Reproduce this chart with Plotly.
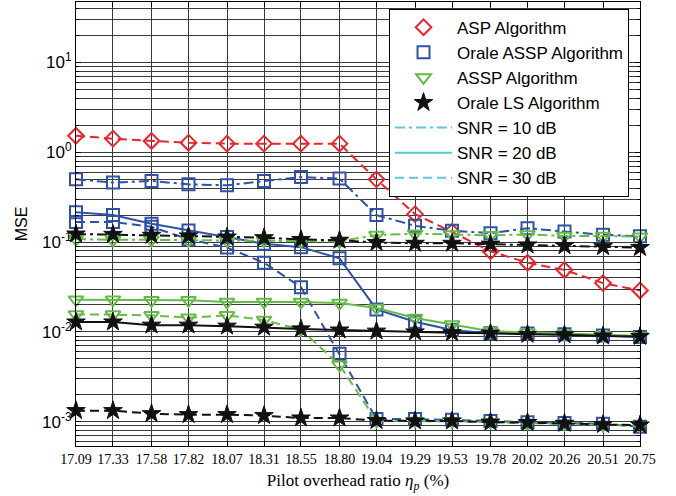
import plotly.graph_objects as go

# Pilot overhead ratio (%)
overhead = [17.09, 17.33, 17.58, 17.82, 18.07, 18.31, 18.55, 18.80,
            19.04, 19.29, 19.53, 19.78, 20.02, 20.26, 20.51, 20.75]
overhead_labels = ["17.09", "17.33", "17.58", "17.82", "18.07", "18.31", "18.55", "18.80",
                   "19.04", "19.29", "19.53", "19.78", "20.02", "20.26", "20.51", "20.75"]

# MSE curves
asp_30 = [1.53, 1.42, 1.34, 1.28, 1.25, 1.25, 1.25, 1.25,
          0.50, 0.205, 0.13, 0.079, 0.059, 0.049, 0.035, 0.029]

oassp_10 = [0.50, 0.46, 0.48, 0.44, 0.43, 0.48, 0.53, 0.51,
            0.20, 0.152, 0.134, 0.126, 0.143, 0.131, 0.121, 0.116]
oassp_20 = [0.215, 0.20, 0.16, 0.135, 0.114, 0.096, 0.088, 0.066,
            0.0178, 0.013, 0.0105, 0.0097, 0.0096, 0.0094, 0.0091, 0.0088]
oassp_30 = [0.168, 0.168, 0.148, 0.108, 0.087, 0.059, 0.0315, 0.0057,
            0.00107, 0.00107, 0.00105, 0.00102, 0.00099, 0.00097, 0.00095, 0.00088]

assp_10 = [0.108, 0.106, 0.106, 0.105, 0.104, 0.104, 0.103, 0.102,
           0.120, 0.124, 0.122, 0.119, 0.122, 0.117, 0.117, 0.115]
assp_20 = [0.0229, 0.0229, 0.0225, 0.0225, 0.0216, 0.0216, 0.0216, 0.0210,
           0.0185, 0.0143, 0.0121, 0.0102, 0.0099, 0.0096, 0.0092, 0.0090]
assp_30 = [0.0156, 0.0156, 0.0153, 0.0144, 0.0153, 0.0136, 0.0106, 0.0043,
           0.00102, 0.00102, 0.00101, 0.00099, 0.00097, 0.00095, 0.00092, 0.00090]

ols_10 = [0.123, 0.122, 0.119, 0.117, 0.114, 0.112, 0.107, 0.105,
          0.099, 0.097, 0.097, 0.095, 0.093, 0.091, 0.089, 0.087]
ols_20 = [0.0129, 0.0129, 0.0119, 0.0119, 0.0116, 0.0113, 0.0108, 0.0105,
          0.0102, 0.0100, 0.0098, 0.0097, 0.0094, 0.0093, 0.0090, 0.0089]
ols_30 = [0.00133, 0.00133, 0.00123, 0.00120, 0.00120, 0.00117, 0.00110, 0.00110,
          0.00103, 0.00102, 0.00102, 0.00099, 0.00098, 0.00096, 0.00093, 0.00092]

RED, BLUE, GREEN, BLACK, CYAN = "#ee2228", "#2f52a8", "#66bb46", "#111111", "#5cc6dc"
DASH = "9px,5px"
DASHDOT = "10px,4px,3px,4px"
SOLID = "solid"

STYLE = {
    "asp": (RED, "diamond-open", 12),
    "oassp": (BLUE, "square-open", 12),
    "assp": (GREEN, "triangle-down-open", 13),
    "ols": (BLACK, "star", 14),
}

fig = go.Figure()


def add_curve(y, key, dash):
    color, symbol, size = STYLE[key]
    fig.add_trace(go.Scatter(
        x=overhead, y=y, mode="lines+markers", showlegend=False, cliponaxis=False,
        line=dict(color=color, width=2, dash=dash),
        marker=dict(symbol=symbol, size=size, color=color,
                    line=dict(color=color, width=2 if symbol.endswith("open") else 1)),
    ))


add_curve(asp_30, "asp", DASH)
add_curve(oassp_10, "oassp", DASHDOT)
add_curve(oassp_20, "oassp", SOLID)
add_curve(oassp_30, "oassp", DASH)
add_curve(assp_10, "assp", DASHDOT)
add_curve(assp_20, "assp", SOLID)
add_curve(assp_30, "assp", DASH)
add_curve(ols_10, "ols", DASHDOT)
add_curve(ols_20, "ols", SOLID)
add_curve(ols_30, "ols", DASH)

# Legend entries: algorithms by marker, SNR by line style
for name, key in [("ASP Algorithm", "asp"), ("Orale ASSP Algorithm", "oassp"),
                  ("ASSP Algorithm", "assp"), ("Orale LS Algorithm", "ols")]:
    color, symbol, size = STYLE[key]
    fig.add_trace(go.Scatter(
        x=[None], y=[None], mode="markers", name=name,
        marker=dict(symbol=symbol, size=size, color=color,
                    line=dict(color=color, width=2 if symbol.endswith("open") else 1)),
    ))
for name, dash in [("SNR = 10 dB", DASHDOT), ("SNR = 20 dB", SOLID), ("SNR = 30 dB", DASH)]:
    fig.add_trace(go.Scatter(
        x=[None], y=[None], mode="lines", name=name,
        line=dict(color=CYAN, width=2, dash=dash),
    ))

decades = [-3, -2, -1, 0, 1]
major_vals = [10.0 ** d for d in decades]
major_text = ["10<sup>%d</sup>" % d for d in decades]
minor_vals = [m * 10.0 ** d for d in range(-4, 2) for m in range(2, 10)]

GRID = "#3a3a3a"

fig.update_layout(
    width=676, height=496,
    margin=dict(l=76, r=36, t=2, b=50),
    paper_bgcolor="white", plot_bgcolor="white",
    font=dict(family="Liberation Sans, Arial, sans-serif", size=15, color="black"),
    legend=dict(
        x=0.555, y=0.985, xanchor="left", yanchor="top",
        bgcolor="white", bordercolor="black", borderwidth=1,
        font=dict(size=17), itemwidth=57, tracegroupgap=0,
    ),
    xaxis=dict(
        range=[overhead[0], overhead[-1]],
        tickmode="array", tickvals=overhead, ticktext=overhead_labels,
        tickfont=dict(family="Liberation Serif, Times New Roman, serif", size=14),
        showgrid=True, gridcolor=GRID, gridwidth=1,
        showline=True, linecolor="black", linewidth=1, mirror="ticks",
        ticks="inside", ticklen=5, tickcolor="black",
        zeroline=False,
        title=dict(text="Pilot overhead ratio <i>η<sub>p</sub></i> (%)",
                   font=dict(family="Liberation Serif, Times New Roman, serif", size=17),
                   standoff=8),
    ),
    yaxis=dict(
        type="log", range=[-3.27, 1.674],
        tickmode="array", tickvals=major_vals, ticktext=major_text,
        tickfont=dict(size=17),
        showgrid=True, gridcolor=GRID, gridwidth=1,
        minor=dict(tickvals=minor_vals, showgrid=True, gridcolor=GRID, gridwidth=1,
                   ticks="inside", ticklen=3, tickcolor="black"),
        showline=True, linecolor="black", linewidth=1, mirror="ticks",
        ticks="inside", ticklen=5, tickcolor="black",
        zeroline=False,
        title=dict(text="MSE", font=dict(size=16), standoff=10),
    ),
)

fig.write_html("out.html")
